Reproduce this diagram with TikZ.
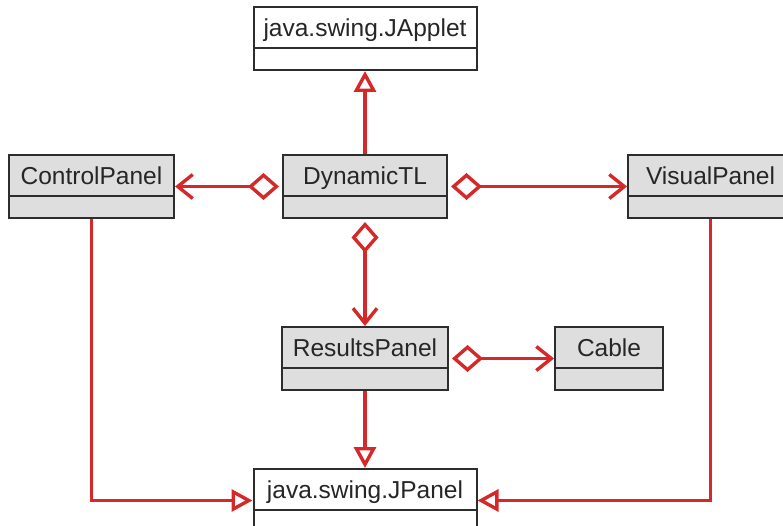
\documentclass[tikz,border=0pt]{standalone}
\usepackage{fontspec}
\setmainfont{Liberation Sans}
\usetikzlibrary{arrows.meta,positioning}
\definecolor{linkred}{RGB}{214,40,40}
\definecolor{boxgrey}{RGB}{222,222,222}
\definecolor{boxline}{RGB}{45,45,45}

\begin{document}
\begin{tikzpicture}[x=1pt, y=1pt, node distance=107pt and 107pt,
  cls/.style={draw=boxline, line width=2pt, fill=boxgrey, inner sep=0pt,
    minimum width=#1, minimum height=63pt, text height=15pt, text depth=19pt,
    text=black!85, font=\fontsize{24.5}{28}\selectfont,
    path picture={\draw[boxline, line width=2pt]
      ([yshift=-41pt]path picture bounding box.north west) --
      ([yshift=-41pt]path picture bounding box.north east);}},
  lib/.style={cls=#1, fill=white},
  link/.style={draw=linkred, line width=3.4pt},
  gen/.style={link, -{Triangle[open,length=21pt,width=22pt]}},
  agg/.style={link, {Diamond[open,length=31pt,width=27pt]}-{Straight Barb[length=15pt,width=24pt]}, shorten <=3pt}]
\useasboundingbox (0,0) rectangle (783,-526);
% classes
\node[cls=164pt] (dyn) at (365,-186.5) {DynamicTL};
\node[lib=223pt, above=83pt of dyn] (applet) {java.swing.JApplet};
\node[cls=165pt, left=of dyn] (ctrl) {ControlPanel};
\node[cls=165pt, right=179pt of dyn] (visual) {VisualPanel};
\node[cls=166pt, below=of dyn] (results) {ResultsPanel};
\node[cls=108pt, right=105pt of results] (cable) {Cable};
\node[lib=223pt, below=77pt of results] (jpanel) {java.swing.JPanel};
% inheritance and aggregation
\draw[gen] (dyn) -- (applet);
\draw[agg] (dyn) -- (ctrl);
\draw[agg] (dyn) -- (visual);
\draw[agg] (dyn) -- (results);
\draw[agg] (results) -- (cable);
\draw[gen] (results) -- (jpanel);
\draw[gen] (ctrl) |- (jpanel);
\draw[gen] (visual) |- (jpanel);
\end{tikzpicture}
\end{document}
